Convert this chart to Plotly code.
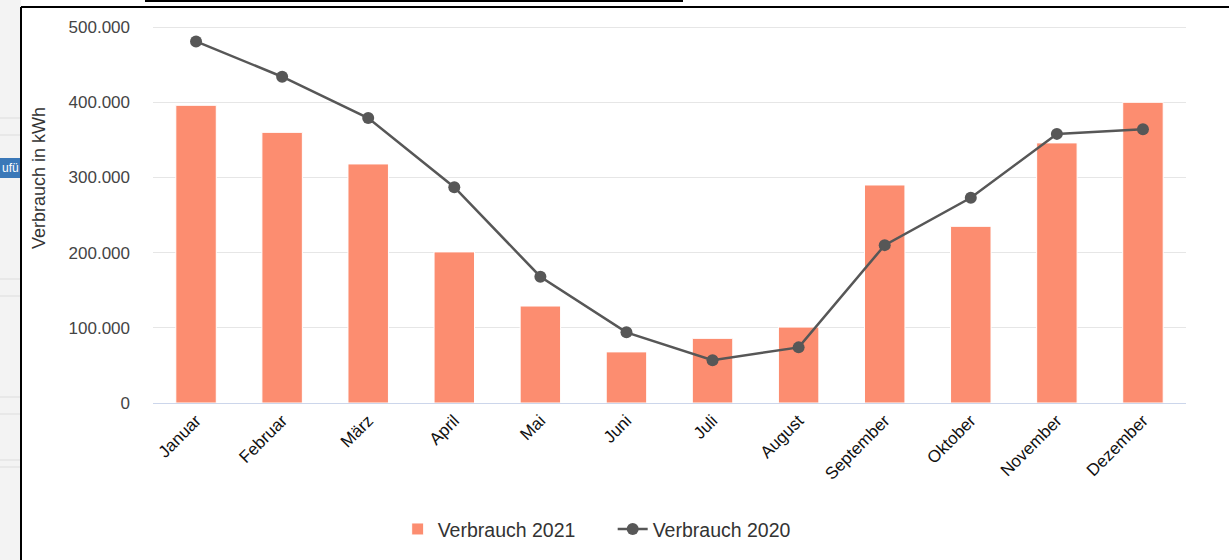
import plotly.graph_objects as go

months = ["Januar", "Februar", "März", "April", "Mai", "Juni", "Juli",
          "August", "September", "Oktober", "November", "Dezember"]
verbrauch_2021 = [396000, 360000, 318000, 201000, 129000, 68000, 86000,
                  101000, 290000, 235000, 346000, 400000]
verbrauch_2020 = [481000, 434000, 379000, 287000, 168000, 94000, 57000,
                  74000, 210000, 273000, 358000, 364000]
y_ticks = [0, 100000, 200000, 300000, 400000, 500000]

W, H = 1229, 560
L, R, T, B = 153, 43, 26, 157

fig = go.Figure()
fig.add_trace(go.Bar(
    x=months, y=verbrauch_2021, name="Verbrauch 2021",
    marker=dict(color="#fc8d70", line=dict(color="#ffffff", width=1)),
))
fig.add_trace(go.Scatter(
    x=months, y=verbrauch_2020, name="Verbrauch 2020", mode="lines+markers",
    line=dict(color="#575757", width=2.5),
    marker=dict(color="#575757", size=12),
))

fig.update_layout(
    width=W, height=H,
    margin=dict(l=L, r=R, t=T, b=B, autoexpand=False),
    paper_bgcolor="#ffffff", plot_bgcolor="#ffffff",
    separators=",.",
    font=dict(family="Liberation Sans, Arial, sans-serif", color="#333333"),
    bargap=0.53,
    showlegend=True,
    legend=dict(orientation="h", x=0.445, xanchor="center", y=-0.335, yanchor="middle",
                font=dict(size=19.5, color="#333333"), itemwidth=30, tracegroupgap=0,
                entrywidth=170, entrywidthmode="pixels"),
    xaxis=dict(
        tickangle=-45, tickfont=dict(size=17, color="#111111"),
        showline=True, linecolor="#ccd6eb", linewidth=1, showgrid=False,
        ticks="", range=[-0.5, 11.5], automargin=False,
    ),
    yaxis=dict(
        range=[0, 501500], tickvals=y_ticks, tickformat=",d",
        tickfont=dict(size=17, color="#444444"),
        gridcolor="#e6e6e6", gridwidth=1, zeroline=False,
        ticklabelstandoff=22, automargin=False,
    ),
)

pw, ph = W - L - R, H - T - B
def fx(x):
    return (x - L) / pw
def fy(y):
    return (H - B - y) / ph

# surrounding page chrome
fig.add_shape(type="rect", xref="paper", yref="paper", x0=fx(0), x1=fx(21), y0=fy(560), y1=fy(0),
              fillcolor="#f3f3f3", line=dict(width=0), layer="below")
for yy in [118, 135, 279, 296, 397, 414, 460, 467]:
    fig.add_shape(type="line", xref="paper", yref="paper", x0=fx(0), x1=fx(21), y0=fy(yy), y1=fy(yy),
                  line=dict(color="#dddddd", width=1))
fig.add_shape(type="rect", xref="paper", yref="paper", x0=fx(0), x1=fx(21), y0=fy(178), y1=fy(158),
              fillcolor="#3a78b8", line=dict(width=0))
fig.add_annotation(text="ufü", xref="paper", yref="paper", x=fx(0), y=fy(168), xanchor="left",
                   yanchor="middle", showarrow=False, font=dict(size=12, color="#ffffff"))
fig.add_shape(type="line", xref="paper", yref="paper", x0=fx(21), x1=fx(21), y0=fy(560), y1=fy(7),
              line=dict(color="#000000", width=2))
fig.add_shape(type="line", xref="paper", yref="paper", x0=fx(21), x1=fx(1229), y0=fy(7), y1=fy(7),
              line=dict(color="#000000", width=2))
fig.add_shape(type="line", xref="paper", yref="paper", x0=fx(145), x1=fx(683), y0=fy(1), y1=fy(1),
              line=dict(color="#000000", width=2))

fig.add_annotation(text="Verbrauch in kWh", xref="paper", yref="paper", x=fx(39), y=fy(178),
                   xanchor="center", yanchor="middle",
                   textangle=-90, showarrow=False, font=dict(size=18, color="#333333"))

fig.write_html("out.html")
